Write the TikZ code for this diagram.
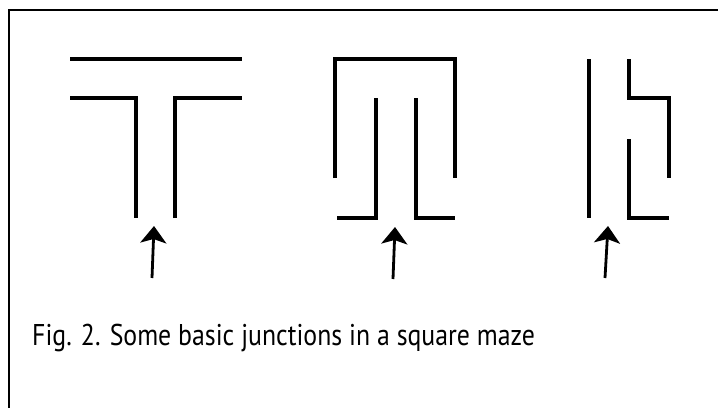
\documentclass[tikz,border=0pt]{standalone}
\usepackage{fontspec}
\setmainfont{PT Sans}
\usetikzlibrary{arrows.meta}

\begin{document}
\begin{tikzpicture}[x=1pt, y=-1pt, wall/.style={line width=3.4pt, line cap=butt}, entry/.style={line width=2.8pt, -{Stealth[width=26pt, length=17pt, inset=4pt]}}]
            \useasboundingbox (0,0) rectangle (718,408);
            \draw[line width=2pt] (718,10) -- (9,10) -- (9,408);

            % T junction
            \draw[wall] (70,59) -- (242,59);
            \draw[wall] (70,98) -- (136,98) -- (136,218);
            \draw[wall] (175,218) -- (175,98) -- (242,98);

            % U turn
            \draw[wall] (335,178) -- (335,59) -- (455,59) -- (455,178);
            \draw[wall] (337,218) -- (376,218) -- (376,98);
            \draw[wall] (416,98) -- (416,218) -- (455,218);

            % side branch
            \draw[wall] (589,59) -- (589,218);
            \draw[wall] (629,59) -- (629,98) -- (669,98) -- (669,178);
            \draw[wall] (629,139) -- (629,218) -- (669,218);

            \coordinate (tA) at (152,278);
            \coordinate (hA) at (154,226);
            \coordinate (tB) at (393,279);
            \coordinate (hB) at (395,227);
            \coordinate (tC) at (605,278);
            \coordinate (hC) at (608,226);
            \draw[entry] (tA) -- (hA);
            \draw[entry] (tB) -- (hB);
            \draw[entry] (tC) -- (hC);

            \node[anchor=base west, inner sep=0pt, xscale=0.86, font=\fontsize{30}{34}\selectfont] (caption) at (32,345) {Fig. 2. Some basic junctions in a square maze};
        \end{tikzpicture}
\end{document}
